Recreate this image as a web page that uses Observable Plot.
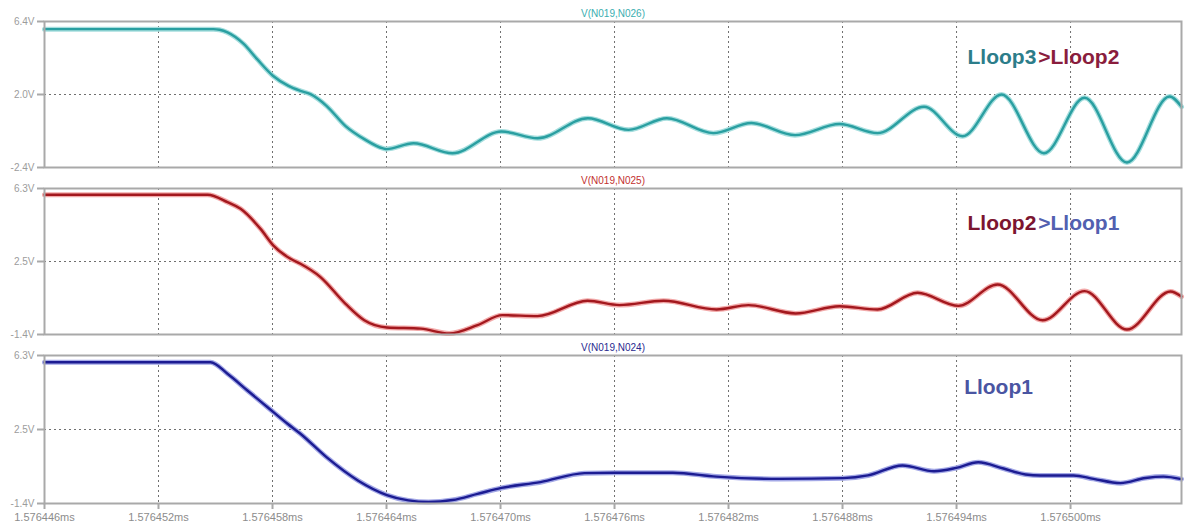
<!DOCTYPE html>
<html><head><meta charset="utf-8">
<script src="https://cdn.jsdelivr.net/npm/d3@7"></script>
<script src="https://cdn.jsdelivr.net/npm/@observablehq/plot@0.6"></script>
<style>
body{margin:0;background:#fff;}
#chart{width:1188px;height:529px;}
#chart svg{display:block;}
</style></head><body><div id="chart"></div>
<script>
// time offset in ns from 1.576446 ms
const xTickValues = [0, 6, 12, 18, 24, 30, 36, 42, 48, 54];
const xTickLabels = ["1.576446ms","1.576452ms","1.576458ms","1.576464ms","1.576470ms","1.576476ms","1.576482ms","1.576488ms","1.576494ms","1.576500ms"];

// V(N019,N026) – Lloop3>Lloop2
const cyanT = [0, 8.89, 9.21, 9.63, 10.47, 11.19, 12.02, 12.84, 13.47, 14.0, 14.84, 15.83, 16.83, 17.82, 18.0, 19.42, 21.47, 24.05, 25.95, 28.6, 30.74, 32.76, 35.2, 37.2, 39.5, 41.84, 43.84, 46.29, 48.32, 50.37, 52.6, 54.74, 56.97, 59.21, 59.84];
const cyanV = [5.94, 5.94, 5.90, 5.74, 5.06, 4.13, 3.13, 2.52, 2.22, 2.02, 1.32, 0.11, -0.69, -1.25, -1.29, -0.94, -1.54, -0.23, -0.64, 0.57, -0.13, 0.57, -0.33, 0.28, -0.45, 0.22, -0.33, 1.26, -0.52, 2.0, -1.54, 1.8, -2.10, 1.88, 1.26];

// V(N019,N025) – Lloop2>Lloop1
const redT = [0, 8.58, 9.63, 10.32, 11.37, 12.05, 12.95, 13.47, 14.51, 15.83, 16.83, 18.02, 19.81, 21.3, 22.79, 24.1, 25.95, 28.58, 30.26, 32.58, 35.37, 37.05, 39.53, 41.84, 43.84, 45.95, 48.1, 50.16, 52.53, 54.74, 56.97, 59.26, 59.84];
const redV = [5.97, 5.97, 5.58, 5.23, 4.17, 3.29, 2.59, 2.33, 1.64, 0.23, -0.65, -1.03, -1.09, -1.35, -0.91, -0.38, -0.43, 0.38, 0.15, 0.38, -0.08, 0.15, -0.29, 0.09, -0.08, 0.80, 0.11, 1.24, -0.65, 0.89, -1.14, 0.87, 0.60];

// V(N019,N024) – Lloop1
const blueT = [0, 8.74, 9.63, 10.68, 11.74, 12.79, 13.47, 14.84, 16.49, 18.02, 19.15, 20.21, 21.47, 22.79, 24.05, 26.1, 28.42, 30.08, 33.07, 35.37, 38.7, 42.02, 43.34, 45.16, 46.82, 47.98, 49.14, 50.47, 51.63, 52.42, 54.16, 55.21, 56.63, 57.95, 58.89, 59.84];
const blueV = [5.95, 5.95, 5.35, 4.48, 3.61, 2.75, 2.23, 1.01, -0.20, -0.96, -1.24, -1.32, -1.22, -0.90, -0.59, -0.29, 0.18, 0.20, 0.20, 0.0, -0.12, -0.08, 0.06, 0.58, 0.28, 0.45, 0.75, 0.42, 0.11, 0.06, 0.06, -0.12, -0.34, -0.07, 0.0, -0.13];

const titles = ["V(N019,N026)", "V(N019,N025)", "V(N019,N024)"];
const yTicks1 = [-2.4, 2.0, 6.4], yLabels1 = ["-2.4V", "2.0V", "6.4V"];
const yTicks2 = [-1.4, 2.45, 6.3], yLabels2 = ["-1.4V", "2.5V", "6.3V"];
const yTicks3 = [-1.4, 2.45, 6.3], yLabels3 = ["-1.4V", "2.5V", "6.3V"];
const notes1 = [["Lloop3", ">Lloop2"]];
const notes2 = [["Lloop2", ">Lloop1"]];
const notes3 = [["Lloop1"]];

const FONT = "'Liberation Sans', Arial, sans-serif";

function lookup(vals, labels) {
  return d => { const i = vals.findIndex(v => Math.abs(v - d) < 1e-6); return i >= 0 ? labels[i] : ""; };
}

function panel(o) {
  const data = o.t.map((x, i) => ({t: x, v: o.v[i]}));
  const plotH = o.plotH;
  const noteStyle = {frameAnchor: "top", dy: o.noteDy, lineAnchor: "middle", fontSize: 21, fontWeight: "bold"};
  const marks = [
    Plot.ruleX(xTickValues.slice(1), {stroke: "#6f6f6f", strokeWidth: 1, strokeDasharray: "2,3"}),
    Plot.ruleY([o.yTicks[1]], {stroke: "#6f6f6f", strokeWidth: 1, strokeDasharray: "2,3"}),
    Plot.line(data, {x: "t", y: "v", stroke: o.halo, strokeWidth: 5, curve: "monotone-x"}),
    Plot.line(data, {x: "t", y: "v", stroke: o.color, strokeWidth: 2.4, curve: "monotone-x"}),
    Plot.frame({stroke: "#a9a9a9", strokeWidth: 2}),
    Plot.axisY({ticks: o.yTicks, tickFormat: lookup(o.yTicks, o.yLabels), tickSize: 7, tickPadding: 3, label: null,
      stroke: "#a9a9a9", strokeWidth: 2, fill: "#9c9c9c", fontSize: 10}),
    Plot.text([o.title], {frameAnchor: "top", dy: -8, fill: o.titleColor, fontSize: 10, lineAnchor: "middle"}),
  ];
  const n = o.note;
  if (n.length === 2) {
    marks.push(Plot.text([{t: 52.2}], {x: "t", text: () => n[0], textAnchor: "end", fill: o.noteColors[0], ...noteStyle}));
    marks.push(Plot.text([{t: 52.3}], {x: "t", text: () => n[1], textAnchor: "start", fill: o.noteColors[1], ...noteStyle}));
  } else {
    marks.push(Plot.text([{t: 48.4}], {x: "t", text: () => n[0], textAnchor: "start", fill: o.noteColors[0], ...noteStyle}));
  }
  if (o.showX) {
    marks.push(Plot.axisX({ticks: xTickValues, tickFormat: lookup(xTickValues, xTickLabels), tickSize: 6, tickPadding: 4, label: null,
      stroke: "#a9a9a9", strokeWidth: 2, fill: "#8c8c8c", fontSize: 11}));
  }
  return Plot.plot({
    width: 1188, height: o.height,
    marginTop: o.marginTop, marginLeft: 44, marginRight: 7,
    marginBottom: o.height - o.marginTop - plotH,
    x: {domain: [0, 59.84], axis: null, label: null},
    y: {domain: [o.yTicks[0], o.yTicks[2]], axis: null, label: null},
    style: {fontFamily: FONT, background: "#fff", overflow: "visible"},
    marks
  });
}

const root = document.getElementById("chart");
root.append(panel({t: cyanT, v: cyanV, title: titles[0], color: "#2a9fa1", halo: "#a6dede", titleColor: "#3aaeb0",
  yTicks: yTicks1, yLabels: yLabels1, note: notes1[0], noteColors: ["#2c7d8a", "#8a1d3d"], noteDy: 36,
  height: 175, marginTop: 21, plotH: 146, showX: false}));
root.append(panel({t: redT, v: redV, title: titles[1], color: "#a3181e", halo: "#f2a9a9", titleColor: "#c2302f",
  yTicks: yTicks2, yLabels: yLabels2, note: notes2[0], noteColors: ["#7c1530", "#5260b0"], noteDy: 35,
  height: 167, marginTop: 13, plotH: 146, showX: false}));
root.append(panel({t: blueT, v: blueV, title: titles[2], color: "#1c1c92", halo: "#a3a8e6", titleColor: "#2a2a90",
  yTicks: yTicks3, yLabels: yLabels3, note: notes3[0], noteColors: ["#4a55a2"], noteDy: 32,
  height: 187, marginTop: 13, plotH: 148, showX: true}));
</script></body></html>
